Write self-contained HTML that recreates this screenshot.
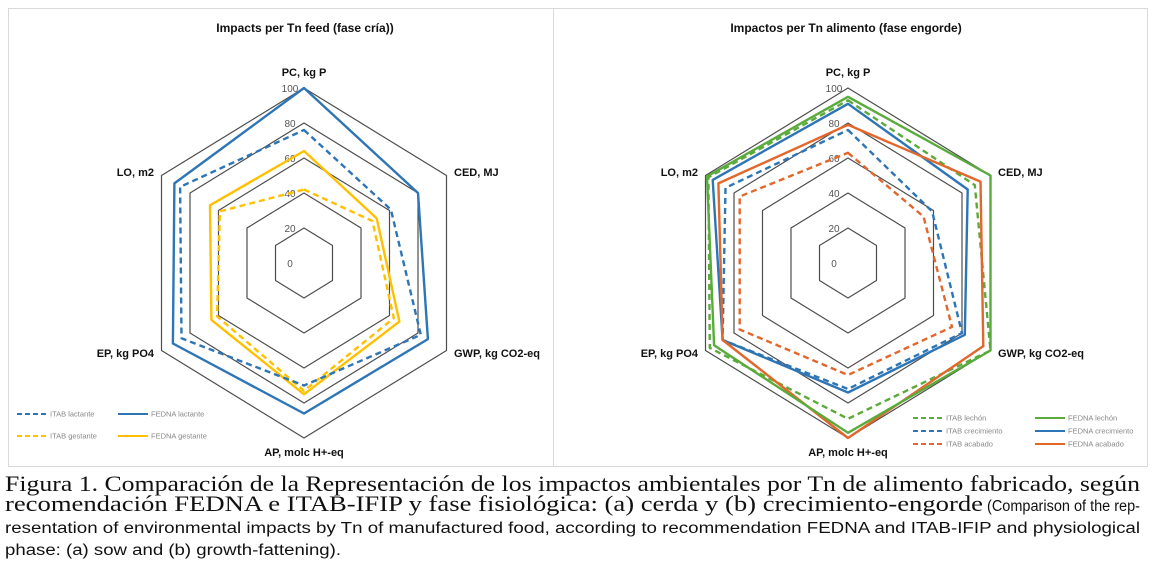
<!DOCTYPE html>
<html><head><meta charset="utf-8"><style>
html,body{margin:0;padding:0;background:#fff;}
svg{display:block;}
.ax{font-family:"Liberation Sans",sans-serif;font-weight:bold;font-size:11px;fill:#111;}
.tk{font-family:"Liberation Sans",sans-serif;font-size:10px;fill:#555;}
.lg{font-family:"Liberation Sans",sans-serif;font-size:7.5px;fill:#888;}
.ti{font-family:"Liberation Sans",sans-serif;font-weight:bold;font-size:12px;fill:#111;}
.se{font-family:"Liberation Serif",serif;font-size:22px;fill:#111;}
.sa{font-family:"Liberation Sans",sans-serif;font-size:15.5px;fill:#111;}
</style></head><body>
<svg id="s" width="1158" height="567" xmlns="http://www.w3.org/2000/svg">
<rect x="0" y="0" width="1158" height="567" fill="#fff"/>
<rect x="8.5" y="8.5" width="545" height="458" fill="#fff" stroke="#d9d9d9"/>
<rect x="553.5" y="8.5" width="594" height="458" fill="#fff" stroke="#d9d9d9"/>
<text class="ti" x="305" y="32" text-anchor="middle">Impacts per Tn feed (fase cría))</text>
<text class="ti" x="846" y="32" text-anchor="middle">Impactos per Tn alimento (fase engorde)</text>
<g id="g"></g>
<text class="se" x="5" y="491" textLength="1135" lengthAdjust="spacingAndGlyphs">Figura 1. Comparación de la Representación de los impactos ambientales por Tn de alimento fabricado, según</text>
<text class="se" x="5" y="511" textLength="978" lengthAdjust="spacingAndGlyphs">recomendación FEDNA e ITAB-IFIP y fase fisiológica: (a) cerda y (b) crecimiento-engorde</text>
<text class="sa" x="987" y="511" textLength="153" lengthAdjust="spacingAndGlyphs">(Comparison of the rep-</text>
<text class="sa" x="5" y="533" textLength="1135" lengthAdjust="spacingAndGlyphs">resentation of environmental impacts by Tn of manufactured food, according to recommendation FEDNA and ITAB-IFIP and physiological</text>
<text class="sa" x="5" y="555" textLength="336" lengthAdjust="spacingAndGlyphs">phase: (a) sow and (b) growth-fattening).</text>
</svg>
<script>
var g=document.getElementById('g'),h='';
var R=175,sx=0.94,cy=263;
function pt(cx,i,v){var a=i*Math.PI/3,r=R*v/100;return [(cx+sx*r*Math.sin(a)).toFixed(1),(cy-r*Math.cos(a)).toFixed(1)];}
function poly(cx,vals,col,dash,w){var p=vals.map(function(v,i){return pt(cx,i,v).join(',');}).join(' ');
h+='<polygon points="'+p+'" fill="none" stroke="'+col+'" stroke-width="'+w+'"'+(dash?' stroke-dasharray="6,4"':'')+' stroke-linejoin="round"/>';}
var labels=['PC, kg P','CED, MJ','GWP, kg CO2-eq','AP, molc H+-eq','EP, kg PO4','LO, m2'];
function chart(cx,series){
 for(var k=20;k<=100;k+=20){poly(cx,[k,k,k,k,k,k],'#4d4d4d',false,1.2);}
 for(var k=0;k<=100;k+=20){h+='<text class="tk" x="'+(cx-14)+'" y="'+(cy+4-R*k/100)+'" text-anchor="middle">'+k+'</text>';}
 series.forEach(function(s){poly(cx,s[0],s[1],s[2],2.4);});
 var o=[[cx,76,'middle'],[cx+150,176,'start'],[cx+150,357,'start'],[cx,456,'middle'],[cx-150,357,'end'],[cx-150,176,'end']];
 o.forEach(function(q,i){h+='<text class="ax" x="'+q[0]+'" y="'+q[1]+'" text-anchor="'+q[2]+'">'+labels[i]+'</text>';});
}
var B='#2e75b6',Y='#ffc000',G='#5aab3c',O='#e2672c';
chart(304,[[[42,48,63,73,61,59],Y,true],[[64,51,67,75,65,66],Y,false],[[76,61,82,70,86,87],B,true],[[100,80,87,86,92,91],B,false]]);
chart(848,[[[63,53,73,64,76,76],O,true],[[76,59,80,72,88,86],B,true],[[93,89,100,89,97,98],G,true],[[91,84,82,74,88,95],B,false],[[79,93,95,100,88,91],O,false],[[95,100,100,97,94,99],G,false]]);
function leg(x,y,col,dash,t){h+='<line x1="'+x+'" y1="'+y+'" x2="'+(x+30)+'" y2="'+y+'" stroke="'+col+'" stroke-width="2"'+(dash?' stroke-dasharray="5,3"':'')+'/><text class="lg" x="'+(x+33)+'" y="'+(y+2.5)+'">'+t+'</text>';}
leg(17,414,B,true,'ITAB lactante');leg(118,414,B,false,'FEDNA lactante');
leg(17,436,Y,true,'ITAB gestante');leg(118,436,Y,false,'FEDNA gestante');
leg(913,418,G,true,'ITAB lechón');leg(1035,418,G,false,'FEDNA lechón');
leg(913,431,B,true,'ITAB crecimiento');leg(1035,431,B,false,'FEDNA crecimiento');
leg(913,444,O,true,'ITAB acabado');leg(1035,444,O,false,'FEDNA acabado');
g.innerHTML=h;
</script>
</body></html>
